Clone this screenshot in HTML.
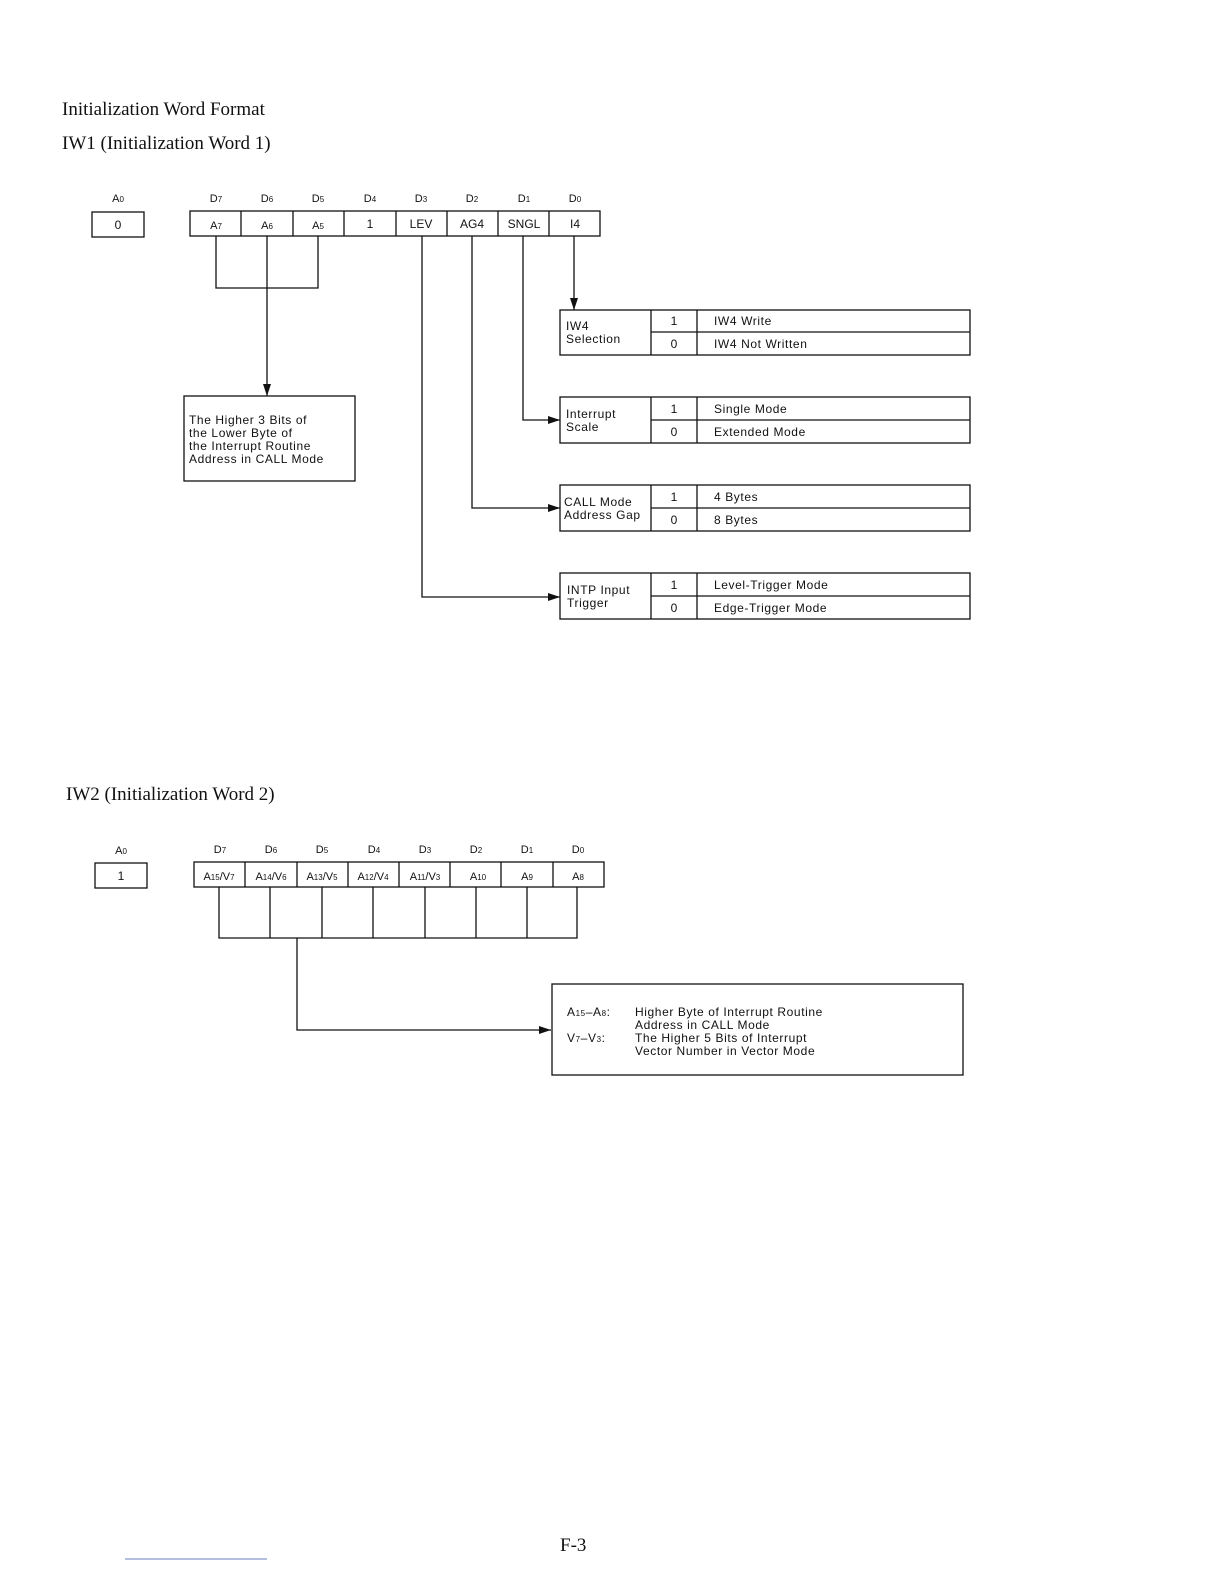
<!DOCTYPE html>
<html><head><meta charset="utf-8"><style>
body{margin:0;background:#fff}
svg text{font-family:"Liberation Sans",sans-serif;fill:#111}
.t{font-family:"Liberation Serif",serif;font-size:19px}
.s{font-size:12px;letter-spacing:0.6px}
.h{font-size:11px}
</style></head><body>
<svg width="1224" height="1584" viewBox="0 0 1224 1584" xmlns="http://www.w3.org/2000/svg">
<defs><marker id="a" markerWidth="12" markerHeight="8" refX="12" refY="4" orient="auto" markerUnits="userSpaceOnUse"><path d="M0,0 L12,4 L0,8 z" fill="#111"/></marker></defs>
<text class="t" x="62" y="115">Initialization Word Format</text>
<text class="t" x="62" y="149">IW1 (Initialization Word 1)</text>
<g stroke="#111" stroke-width="1.3" fill="none">
<rect x="92" y="212" width="52" height="25"/>
<rect x="190" y="211" width="410" height="25"/>
<path d="M241,211V236M293,211V236M344,211V236M396,211V236M447,211V236M498,211V236M549,211V236"/>
<path d="M216,236V288H318V236"/>
<path d="M267,236V396" marker-end="url(#a)"/>
<rect x="184" y="396" width="171" height="85"/>
<path d="M574,236V310" marker-end="url(#a)"/>
<path d="M523,236V420H560" marker-end="url(#a)"/>
<path d="M472,236V508H560" marker-end="url(#a)"/>
<path d="M422,236V597H560" marker-end="url(#a)"/>
<g>
<rect x="560" y="310" width="410" height="45"/><path d="M651,310V355M697,310V355M651,332H970"/>
<rect x="560" y="397" width="410" height="46"/><path d="M651,397V443M697,397V443M651,420H970"/>
<rect x="560" y="485" width="410" height="46"/><path d="M651,485V531M697,485V531M651,508H970"/>
<rect x="560" y="573" width="410" height="46"/><path d="M651,573V619M697,573V619M651,596H970"/>
</g>
<rect x="95" y="863" width="52" height="25"/>
<rect x="194" y="862" width="410" height="25"/>
<path d="M245,862V887M297,862V887M348,862V887M399,862V887M450,862V887M501,862V887M553,862V887"/>
<path d="M219,887V938H577V887M270,887V938M322,887V938M373,887V938M425,887V938M476,887V938M527,887V938"/>
<path d="M297,938V1030H551" marker-end="url(#a)"/>
<rect x="552" y="984" width="411" height="91"/>
</g>
<g class="h" text-anchor="middle">
<text x="118" y="202">A<tspan font-size="8">0</tspan></text>
<text x="216" y="202">D<tspan font-size="8">7</tspan></text>
<text x="267" y="202">D<tspan font-size="8">6</tspan></text>
<text x="318" y="202">D<tspan font-size="8">5</tspan></text>
<text x="370" y="202">D<tspan font-size="8">4</tspan></text>
<text x="421" y="202">D<tspan font-size="8">3</tspan></text>
<text x="472" y="202">D<tspan font-size="8">2</tspan></text>
<text x="524" y="202">D<tspan font-size="8">1</tspan></text>
<text x="575" y="202">D<tspan font-size="8">0</tspan></text>
<text x="118" y="229" font-size="12">0</text>
<text x="216" y="229">A<tspan font-size="8">7</tspan></text>
<text x="267" y="229">A<tspan font-size="8">6</tspan></text>
<text x="318" y="229">A<tspan font-size="8">5</tspan></text>
<text x="370" y="228" font-size="12">1</text>
<text x="421" y="228" font-size="12">LEV</text>
<text x="472" y="228" font-size="12">AG4</text>
<text x="524" y="228" font-size="12">SNGL</text>
<text x="575" y="228" font-size="12">I4</text>
<text x="121" y="854">A<tspan font-size="8">0</tspan></text>
<text x="220" y="853">D<tspan font-size="8">7</tspan></text>
<text x="271" y="853">D<tspan font-size="8">6</tspan></text>
<text x="322" y="853">D<tspan font-size="8">5</tspan></text>
<text x="374" y="853">D<tspan font-size="8">4</tspan></text>
<text x="425" y="853">D<tspan font-size="8">3</tspan></text>
<text x="476" y="853">D<tspan font-size="8">2</tspan></text>
<text x="527" y="853">D<tspan font-size="8">1</tspan></text>
<text x="578" y="853">D<tspan font-size="8">0</tspan></text>
<text x="121" y="880" font-size="12">1</text>
<text x="219" y="880">A<tspan font-size="8">15</tspan>/V<tspan font-size="8">7</tspan></text>
<text x="271" y="880">A<tspan font-size="8">14</tspan>/V<tspan font-size="8">6</tspan></text>
<text x="322" y="880">A<tspan font-size="8">13</tspan>/V<tspan font-size="8">5</tspan></text>
<text x="373" y="880">A<tspan font-size="8">12</tspan>/V<tspan font-size="8">4</tspan></text>
<text x="425" y="880">A<tspan font-size="8">11</tspan>/V<tspan font-size="8">3</tspan></text>
<text x="478" y="880">A<tspan font-size="8">10</tspan></text>
<text x="527" y="880">A<tspan font-size="8">9</tspan></text>
<text x="578" y="880">A<tspan font-size="8">8</tspan></text>
<text x="674" y="325" font-size="12">1</text><text x="674" y="348" font-size="12">0</text>
<text x="674" y="413" font-size="12">1</text><text x="674" y="436" font-size="12">0</text>
<text x="674" y="501" font-size="12">1</text><text x="674" y="524" font-size="12">0</text>
<text x="674" y="589" font-size="12">1</text><text x="674" y="612" font-size="12">0</text>
</g>
<g class="s">
<text x="714" y="325">IW4 Write</text><text x="714" y="348">IW4 Not Written</text>
<text x="714" y="413">Single Mode</text><text x="714" y="436">Extended Mode</text>
<text x="714" y="501">4 Bytes</text><text x="714" y="524">8 Bytes</text>
<text x="714" y="589">Level-Trigger Mode</text><text x="714" y="612">Edge-Trigger Mode</text>
<text x="566" y="330">IW4</text><text x="566" y="343">Selection</text>
<text x="566" y="418">Interrupt</text><text x="566" y="431">Scale</text>
<text x="564" y="506">CALL Mode</text><text x="564" y="519">Address Gap</text>
<text x="567" y="594">INTP Input</text><text x="567" y="607">Trigger</text>
<text x="189" y="424">The Higher 3 Bits of</text>
<text x="189" y="437">the Lower Byte of</text>
<text x="189" y="450">the Interrupt Routine</text>
<text x="189" y="463">Address in CALL Mode</text>
<text x="567" y="1016">A<tspan font-size="8">15</tspan>–A<tspan font-size="8">8</tspan>:</text>
<text x="635" y="1016">Higher Byte of Interrupt Routine</text>
<text x="635" y="1029">Address in CALL Mode</text>
<text x="567" y="1042">V<tspan font-size="8">7</tspan>–V<tspan font-size="8">3</tspan>:</text>
<text x="635" y="1042">The Higher 5 Bits of Interrupt</text>
<text x="635" y="1055">Vector Number in Vector Mode</text>
</g>
<text class="t" x="66" y="800">IW2 (Initialization Word 2)</text>
<text class="t" x="560" y="1551" font-size="17">F-3</text>
<line x1="125" y1="1559" x2="267" y2="1559" stroke="#6a7fc0" stroke-width="1"/>
</svg>
</body></html>
